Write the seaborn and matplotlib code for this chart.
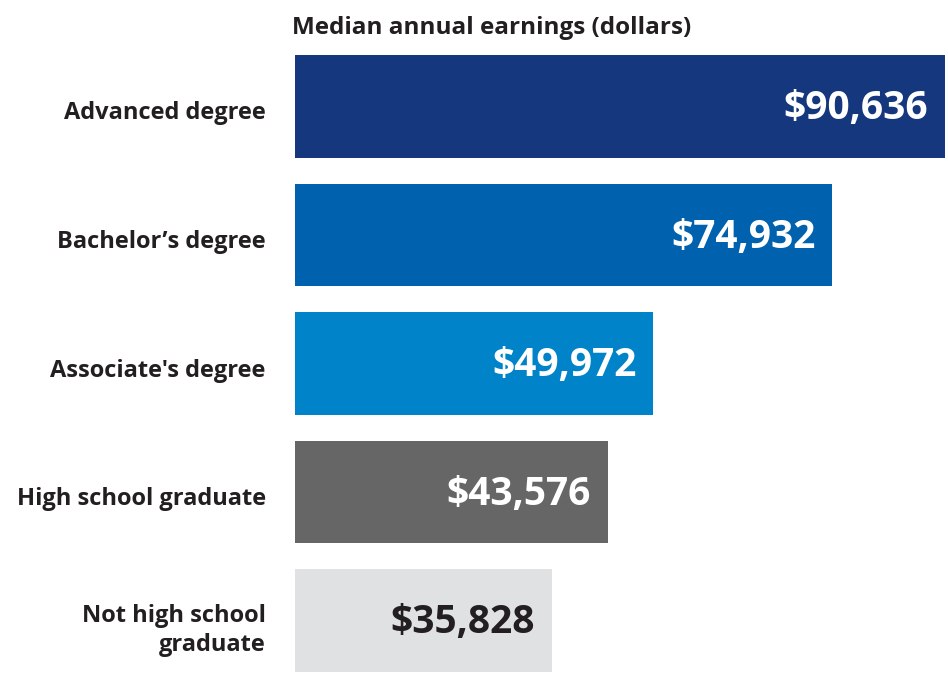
import matplotlib
matplotlib.use("Agg")
import matplotlib.pyplot as plt
import matplotlib.transforms as mtransforms
import pandas as pd
import seaborn as sns

categories = ["Advanced degree", "Bachelor\u2019s degree", "Associate's degree",
              "High school graduate", "Not high school\ngraduate"]
earnings = [90636, 74932, 49972, 43576, 35828]
bar_colors = ["#14377d", "#0061ae", "#0083c9", "#666666", "#e0e1e3"]
label_colors = ["white", "white", "white", "white", "#231f20"]

sns.set_theme(style="white")
plt.rcParams["font.family"] = ["Open Sans", "DejaVu Sans"]
plt.rcParams["font.weight"] = "bold"

df = pd.DataFrame({"category": categories, "earnings": earnings})

fig = plt.figure(figsize=(9.48, 6.73), dpi=100)
ax = fig.add_axes([295 / 948, 1 - 672 / 673, 650 / 948, (672 - 55) / 673])
sns.barplot(data=df, x="earnings", y="category", hue="category", palette=bar_colors,
            legend=False, width=0.8, saturation=1, linewidth=0, ax=ax)

ax.set_xlim(0, max(earnings))
ax.set_ylim(4.4, -0.4)
ax.set_xlabel("")
ax.set_ylabel("")
ax.set_xticks([])
ax.tick_params(axis="y", length=0, pad=21, labelsize=17, labelcolor="#231f20")
# nudge category labels down a few pixels
shift = mtransforms.ScaledTranslation(0, -4 / 100, fig.dpi_scale_trans)
for lab in ax.get_yticklabels():
    lab.set_fontweight("bold")
    lab.set_horizontalalignment("right")
    lab.set_multialignment("right")
    lab.set_linespacing(1.3)
    lab.set_transform(lab.get_transform() + shift)
sns.despine(ax=ax, left=True, bottom=True)

for i, (v, c) in enumerate(zip(earnings, label_colors)):
    ax.annotate(f"${v:,}", xy=(v, i), xytext=(-12, -1.5), textcoords="offset points",
                ha="right", va="center", fontsize=28, fontweight="bold", color=c)

fig.text(292 / 948, 1 - 28 / 673, "Median annual earnings (dollars)", ha="left", va="center",
         fontsize=17.5, fontweight="bold", color="#231f20")

fig.savefig("out.png", dpi=100)
